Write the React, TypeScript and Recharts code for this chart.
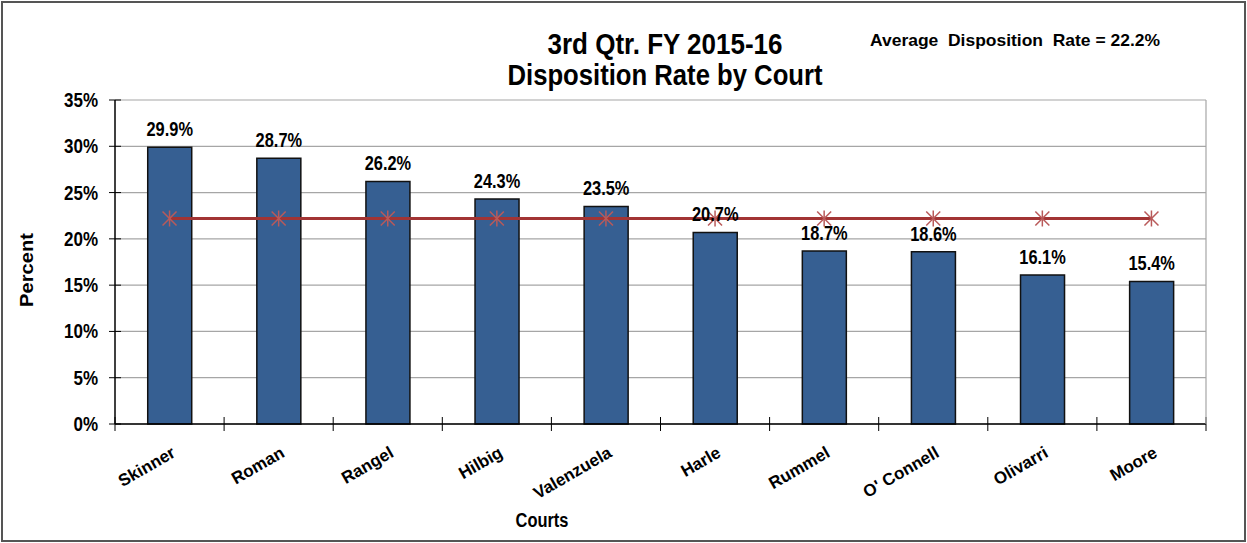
import React from "react";
import {
  ComposedChart,
  Bar,
  Line,
  XAxis,
  YAxis,
  CartesianGrid,
  LabelList,
} from "recharts";

const courts = [
  "Skinner",
  "Roman",
  "Rangel",
  "Hilbig",
  "Valenzuela",
  "Harle",
  "Rummel",
  "O' Connell",
  "Olivarri",
  "Moore",
];
const rates = [29.9, 28.7, 26.2, 24.3, 23.5, 20.7, 18.7, 18.6, 16.1, 15.4];
const averageRate = 22.2;
const yTicks = [0, 5, 10, 15, 20, 25, 30, 35];

const data = courts.map((name, i) => ({ name, rate: rates[i], avg: averageRate }));

const FONT = "'Liberation Sans', Arial, sans-serif";

const W = 1247;
const H = 543;
const BAND = (1206 - 115) / courts.length;

// Condensed text: regular font horizontally scaled to imitate Arial Narrow.
const NText = (p: any) => {
  const { x, y, anchor = "middle", size, sx = 0.82, bold = true, children } = p;
  return (
    <text
      transform={`translate(${x} ${y}) scale(${sx} 1)`}
      x={0}
      y={0}
      textAnchor={anchor}
      fontFamily={FONT}
      fontWeight={bold ? "bold" : "normal"}
      fontSize={size}
      fill="#000"
      style={{ whiteSpace: "pre" }}
    >
      {children}
    </text>
  );
};

const XTick = (props: any) => {
  const { x, y, payload, index } = props;
  const half = payload && payload.offset ? payload.offset : BAND / 2;
  const last = index === courts.length - 1;
  return (
    <g>
      <line x1={x - half} x2={x - half} y1={y - 7} y2={y + 7} stroke="#000" strokeWidth={1} />
      {last && <line x1={x + half} x2={x + half} y1={y - 7} y2={y + 7} stroke="#000" strokeWidth={1} />}
      <text
        x={x + 7}
        y={y + 32}
        textAnchor="end"
        transform={`rotate(-30 ${x + 7} ${y + 32})`}
        fontFamily={FONT}
        fontWeight="bold"
        fontSize={17}
        fill="#000"
      >
        {payload.value}
      </text>
    </g>
  );
};

const YTick = (props: any) => {
  const { x, y, payload } = props;
  return (
    <g>
      <line x1={x - 6} x2={x + 6} y1={y} y2={y} stroke="#000" strokeWidth={1} />
      <NText x={x - 17} y={y + 7} anchor="end" size={20} sx={0.85}>
        {`${payload.value}%`}
      </NText>
    </g>
  );
};

const BarLabel = (props: any) => {
  const { x, y, width, value } = props;
  return (
    <NText x={x + width / 2} y={y - 11} size={20} sx={0.82}>
      {`${value}%`}
    </NText>
  );
};

const StarDot = (props: any) => {
  const { cx, cy } = props;
  if (cx == null || cy == null) return null;
  const c = "#b95a5a";
  return (
    <g>
      <line x1={cx} x2={cx} y1={cy - 8} y2={cy + 8} stroke={c} strokeWidth={1.5} />
      <line x1={cx - 7} x2={cx + 7} y1={cy - 7} y2={cy + 7} stroke={c} strokeWidth={1.5} />
      <line x1={cx - 7} x2={cx + 7} y1={cy + 7} y2={cy - 7} stroke={c} strokeWidth={1.5} />
    </g>
  );
};

export default function App() {
  return (
    <div style={{ position: "relative", width: W, height: H, background: "#fff" }}>
      <style>{"body{margin:0;}"}</style>
      <ComposedChart
        width={W}
        height={H}
        data={data}
        margin={{ top: 100, right: 41, bottom: 0, left: 0 }}
        barCategoryGap="30%"
      >
        <CartesianGrid vertical={false} stroke="#a6a6a6" strokeWidth={1.2} />
        <XAxis
          dataKey="name"
          height={119}
          axisLine={{ stroke: "#000", strokeWidth: 1.5 }}
          tickLine={false}
          tickSize={0}
          tickMargin={0}
          interval={0}
          tick={<XTick />}
        />
        <YAxis
          width={115}
          domain={[0, 35]}
          ticks={yTicks}
          interval={0}
          axisLine={{ stroke: "#000", strokeWidth: 1.5 }}
          tickLine={false}
          tickSize={0}
          tickMargin={0}
          tick={<YTick />}
        />
        <Bar dataKey="rate" fill="#365f92" stroke="#111" strokeWidth={1.5} isAnimationActive={false}>
          <LabelList dataKey="rate" content={<BarLabel />} />
        </Bar>
        <Line
          dataKey="avg"
          stroke="#a23434"
          strokeWidth={3}
          dot={<StarDot />}
          activeDot={false}
          isAnimationActive={false}
        />
      </ComposedChart>
      <svg
        width={W}
        height={H}
        style={{ position: "absolute", left: 0, top: 0, pointerEvents: "none" }}
      >
        <rect x={2} y={2} width={W - 4} height={H - 4} fill="none" stroke="#555" strokeWidth={2} />
        <line x1={1206} x2={1206} y1={100} y2={424} stroke="#a6a6a6" strokeWidth={1.2} />
        <text
          x={665}
          y={54}
          textAnchor="middle"
          fontFamily={FONT}
          fontWeight="bold"
          fontSize={29}
          fill="#000"
          textLength={235}
          lengthAdjust="spacingAndGlyphs"
        >
          3rd Qtr. FY 2015-16
        </text>
        <text
          x={665}
          y={85}
          textAnchor="middle"
          fontFamily={FONT}
          fontWeight="bold"
          fontSize={29}
          fill="#000"
          textLength={315}
          lengthAdjust="spacingAndGlyphs"
        >
          Disposition Rate by Court
        </text>
        <text
          x={1015}
          y={46}
          textAnchor="middle"
          fontFamily={FONT}
          fontWeight="bold"
          fontSize={17}
          fill="#000"
          textLength={290}
          lengthAdjust="spacingAndGlyphs"
          style={{ whiteSpace: "pre" }}
        >
          {"Average  Disposition  Rate = 22.2%"}
        </text>
        <text
          x={33}
          y={270}
          textAnchor="middle"
          transform="rotate(-90 33 270)"
          fontFamily={FONT}
          fontWeight="bold"
          fontSize={19}
          fill="#000"
          textLength={74}
          lengthAdjust="spacingAndGlyphs"
        >
          Percent
        </text>
        <text
          x={542}
          y={527}
          textAnchor="middle"
          fontFamily={FONT}
          fontWeight="bold"
          fontSize={20}
          fill="#000"
          textLength={53}
          lengthAdjust="spacingAndGlyphs"
        >
          Courts
        </text>
      </svg>
    </div>
  );
}
